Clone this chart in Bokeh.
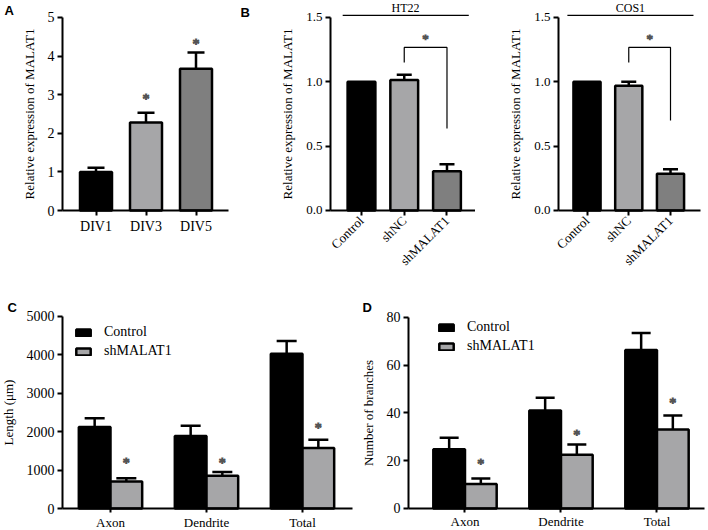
import math
from bokeh.plotting import figure
from bokeh.layouts import row, column
from bokeh.models import (ColumnDataSource, Range1d, FixedTicker, Whisker, TeeHead,
                          Label, Legend, LegendItem, NumeralTickFormatter)
from bokeh.core.properties import value
from bokeh.embed import file_html
from bokeh.resources import INLINE

SERIF = "Liberation Serif"
BLACK = "#000000"
LIGHT = "#a6a6a8"
DARK = "#7f7f7f"
STAR = "#555555"

# ---------------- data ----------------
# Panel A
a_labels = ["DIV1", "DIV3", "DIV5"]
a_values = [1.0, 2.28, 3.67]
a_errors = [0.11, 0.25, 0.42]
a_star_y = [None, 2.87, 4.30]

# Panel B
b_labels = ["Control", "shNC", "shMALAT1"]
ht22_values = [1.0, 1.015, 0.305]
ht22_errors = [0.0, 0.04, 0.055]
cos1_values = [1.0, 0.97, 0.285]
cos1_errors = [0.0, 0.03, 0.035]
ht22_bracket = [1.15, 1.267, 0.637]   # start, top, end of bracket
cos1_bracket = [1.15, 1.267, 0.70]
b_star_y = 1.335

# Panels C, D
groups = ["Axon", "Dendrite", "Total"]
series = ["Control", "shMALAT1"]
c_control = [2120, 1890, 4030]
c_control_err = [230, 265, 330]
c_sh = [705, 850, 1575]
c_sh_err = [85, 100, 215]
c_star_y = [1170, 1170, 2080]
d_control = [24.8, 41.0, 66.3]
d_control_err = [4.8, 5.3, 7.1]
d_sh = [10.2, 22.5, 33.0]
d_sh_err = [2.3, 4.3, 5.9]
d_star_y = [18.4, 30.5, 43.9]

TOP_H = 272
BOT_H = 258


def make_fig(width, height, xr, yr, yaxis_at, ybounds, xbounds):
    # frame fills the whole figure; axes are pinned at fixed data locations
    p = figure(width=width, height=height, x_range=Range1d(*xr), y_range=Range1d(*yr),
               output_backend="svg", toolbar_location=None,
               min_border_left=0, min_border_right=0,
               min_border_top=0, min_border_bottom=0)
    p.outline_line_color = None
    p.xgrid.visible = False
    p.ygrid.visible = False
    p.yaxis.fixed_location = yaxis_at
    p.xaxis.fixed_location = 0
    p.yaxis.bounds = ybounds
    p.xaxis.bounds = xbounds
    for ax in p.axis:
        ax.axis_line_width = 2
        ax.axis_line_color = "black"
        ax.major_tick_line_width = 2
        ax.major_tick_line_color = "black"
        ax.major_tick_out = 5
        ax.major_tick_in = 0
        ax.minor_tick_line_color = None
        ax.major_label_text_font = SERIF
        ax.major_label_text_font_size = "14px"
        ax.major_label_text_color = "black"
        ax.major_label_standoff = 3
        ax.axis_label_text_font = SERIF
        ax.axis_label_text_font_style = "normal"
        ax.axis_label_text_font_size = "13px"
        ax.axis_label_text_color = "black"
        ax.axis_label_standoff = 8
    return p


def panel_label(p, text, x, y):
    # x, y in screen pixels from the frame's (= figure's) bottom-left corner
    p.add_layout(Label(x=x, y=y, x_units="screen", y_units="screen", text=text,
                       text_font="Arial", text_font_style="bold", text_font_size="13px",
                       text_baseline="top", text_color="black"))


def whiskers(p, xs, vals, errs, size):
    keep = [i for i in range(len(xs)) if errs[i] > 0]
    src = ColumnDataSource(dict(base=[xs[i] for i in keep],
                                lower=[vals[i] for i in keep],
                                upper=[vals[i] + errs[i] for i in keep]))
    p.add_layout(Whisker(source=src, base="base", lower="lower", upper="upper",
                         line_width=2.5, line_color="black", lower_head=None,
                         upper_head=TeeHead(size=size, line_width=2.5, line_color="black")))


def stars(p, xs, ys, size="14px"):
    pts = [(x, y) for x, y in zip(xs, ys) if y is not None]
    p.text(x=[a for a, _ in pts], y=[b for _, b in pts], text=["*"] * len(pts),
           text_font=value(SERIF), text_font_size=size,
           text_align="center", text_baseline="middle", text_color=STAR,
           text_outline_color=STAR)


# ---------------- Panel A ----------------
ax_pos = list(range(len(a_labels)))
pa = make_fig(236, TOP_H, (-1.91, 2.81), (-1.606, 5.44), -0.67, (0, 5), (-0.67, 2.65))
pa.vbar(x=ax_pos, top=a_values, width=0.64, fill_color=[BLACK, LIGHT, DARK],
        line_color="black", line_width=2.5)
whiskers(pa, ax_pos, a_values, a_errors, 17)
stars(pa, ax_pos, a_star_y)
pa.yaxis.ticker = FixedTicker(ticks=[0, 1, 2, 3, 4, 5])
pa.yaxis.axis_label = "Relative expression of MALAT1"
pa.xaxis.ticker = FixedTicker(ticks=ax_pos)
pa.xaxis.major_label_overrides = {i: l for i, l in enumerate(a_labels)}
panel_label(pa, "A", 4, 270)


# ---------------- Panel B ----------------
def panel_b(width, xr, yaxis_at, axis_end, vals, errs, bracket, title, title_line, title_x):
    pos = list(range(len(b_labels)))
    p = make_fig(width, TOP_H, xr, (-0.4819, 1.632), yaxis_at, (0, 1.5), (yaxis_at, axis_end))
    p.vbar(x=pos, top=vals, width=0.65, fill_color=[BLACK, LIGHT, DARK],
           line_color="black", line_width=2.5)
    whiskers(p, pos, vals, errs, 15)
    p.line(x=[1, 1, 2, 2], y=[bracket[0], bracket[1], bracket[1], bracket[2]],
           line_color="black", line_width=1.2)
    stars(p, [1.5], [b_star_y], "13px")
    p.line(x=title_line, y=[1.516, 1.516], line_color="black", line_width=1.2)
    p.text(x=[title_x], y=[1.570], text=[title], text_font=value(SERIF),
           text_font_size="12px", text_align="center", text_baseline="middle",
           text_color="black")
    p.yaxis.ticker = FixedTicker(ticks=[0, 0.5, 1.0, 1.5])
    p.yaxis.formatter = NumeralTickFormatter(format="0.0")
    p.yaxis.major_label_text_font_size = "13px"
    p.yaxis.axis_label = "Relative expression of MALAT1"
    p.xaxis.ticker = FixedTicker(ticks=pos)
    p.xaxis.major_label_overrides = {i: l for i, l in enumerate(b_labels)}
    p.xaxis.major_label_orientation = math.pi / 4
    p.xaxis.major_label_text_font_size = "13px"
    return p


pb1 = panel_b(239, (-2.924, 2.667), -0.725, 2.667, ht22_values, ht22_errors, ht22_bracket,
              "HT22", [-0.44, 2.51], 1.03)
panel_label(pb1, "B", 4, 268)
pb2 = panel_b(233, (-2.671, 2.910), -0.683, 2.719, cos1_values, cos1_errors, cos1_bracket,
              "COS1", [-0.47, 2.55], 1.04)


# ---------------- Panels C, D ----------------
def grouped(width, xr, yr, yaxis_at, axis_end, ticks, ctrl, ctrl_err, sh, sh_err, star_y,
            ylabel, legend_loc, cap):
    gpos = list(range(len(groups)))
    cx = [g - 0.165 for g in gpos]
    sx = [g + 0.165 for g in gpos]
    p = make_fig(width, BOT_H, xr, yr, yaxis_at, (0, ticks[-1]), (yaxis_at, axis_end))
    r1 = p.vbar(x=cx, top=ctrl, width=0.33, fill_color=BLACK, line_color="black",
                line_width=2.5)
    r2 = p.vbar(x=sx, top=sh, width=0.33, fill_color=LIGHT, line_color="black",
                line_width=2.5)
    whiskers(p, cx, ctrl, ctrl_err, cap)
    whiskers(p, sx, sh, sh_err, cap)
    stars(p, sx, star_y)
    p.yaxis.ticker = FixedTicker(ticks=ticks)
    p.yaxis.axis_label = ylabel
    p.xaxis.ticker = FixedTicker(ticks=gpos)
    p.xaxis.major_label_overrides = {i: l for i, l in enumerate(groups)}
    p.xaxis.major_label_standoff = 2
    p.xaxis.major_tick_out = 4
    p.xaxis.major_label_text_font_size = "13px"
    leg = Legend(items=[LegendItem(label=series[0], renderers=[r1]),
                        LegendItem(label=series[1], renderers=[r2])],
                 location=legend_loc, border_line_color=None, background_fill_alpha=0,
                 glyph_width=18, glyph_height=9, label_standoff=12, label_height=16,
                 spacing=3, padding=0, margin=0,
                 label_text_font=SERIF, label_text_font_size="14px",
                 label_text_color="black")
    p.add_layout(leg)
    return p


pc = grouped(360, (-1.1458, 2.6042), (-572.9, 6145.8), -0.5, 2.521,
             [0, 1000, 2000, 3000, 4000, 5000],
             c_control, c_control_err, c_sh, c_sh_err, c_star_y, "Length (μm)", (74, 171), 20)
panel_label(pc, "C", 7, 231)
pd = grouped(348, (-1.0885, 2.5365), (-9.201, 98.70), -0.5885, 2.495, [0, 20, 40, 60, 80],
             d_control, d_control_err, d_sh, d_sh_err, d_star_y, "Number of branches",
             (77, 176), 19)
panel_label(pd, "D", 2, 231)

layout = column(row(pa, pb1, pb2), row(pc, pd))
open("out.html", "w").write(file_html(layout, INLINE))
